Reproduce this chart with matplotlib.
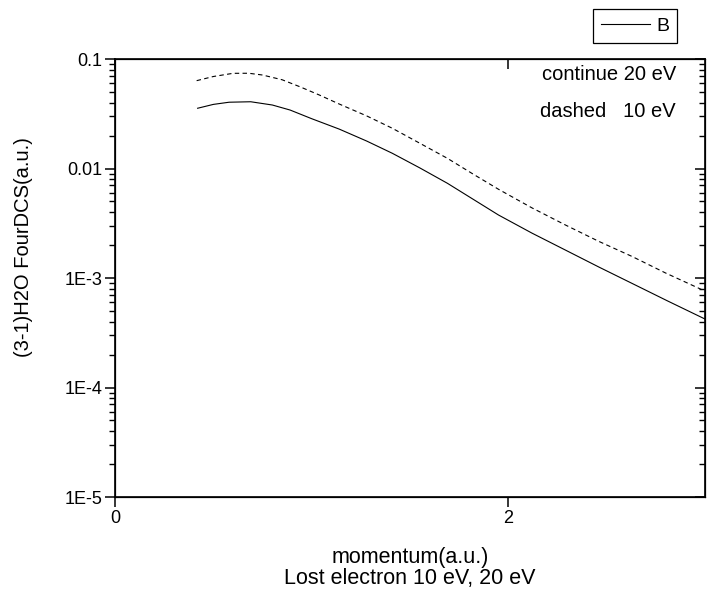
import numpy as np
import matplotlib
matplotlib.use("Agg")
import matplotlib.pyplot as plt
from matplotlib.ticker import FixedLocator, LogLocator, NullFormatter

plt.rcParams['font.family'] = ['Liberation Sans', 'DejaVu Sans']

# values (log scale)
x_20ev = [0.42, 0.50, 0.58, 0.69, 0.80, 0.89, 1.00, 1.14, 1.28, 1.41, 1.55,
          1.69, 1.82, 1.95, 2.12, 2.29, 2.46, 2.63, 2.81, 3.0]
y_20ev = [0.0355, 0.0385, 0.0403, 0.0407, 0.0380, 0.0342, 0.0285, 0.0229,
          0.0178, 0.01377, 0.01012, 0.00733, 0.00525, 0.00376, 0.00257,
          0.00180, 0.00126, 0.000891, 0.000617, 0.000422]

x_10ev = [0.415, 0.50, 0.60, 0.68, 0.75, 0.85, 0.94, 1.04, 1.14, 1.28, 1.41,
          1.55, 1.69, 1.82, 1.95, 2.12, 2.29, 2.46, 2.63, 2.80, 3.0]
y_10ev = [0.0634, 0.0692, 0.0740, 0.0741, 0.0714, 0.0646, 0.0558, 0.0468,
          0.0388, 0.0302, 0.0233, 0.0170, 0.01239, 0.00891, 0.00646, 0.00437,
          0.00305, 0.00216, 0.00157, 0.00111, 0.000759]

y_ticks = [1e-5, 1e-4, 1e-3, 1e-2, 1e-1]
y_ticklabels = ['1E-5', '1E-4', '1E-3', '0.01', '0.1']
x_ticks = [0, 2]

fig = plt.figure(figsize=(7.07, 5.9), dpi=100)
ax = fig.add_axes([0.1627, 0.1576, 0.8345, 0.7424])

solid, = ax.plot(x_20ev, y_20ev, 'k-', linewidth=0.8)
ax.plot(x_10ev, y_10ev, color='k', linestyle=(0, (4, 3)), linewidth=0.8)

ax.set_yscale('log')
ax.set_ylim(1e-5, 0.1)
ax.set_xlim(0, 3)

ax.xaxis.set_major_locator(FixedLocator(x_ticks))
ax.set_xticklabels([str(t) for t in x_ticks])
ax.yaxis.set_major_locator(FixedLocator(y_ticks))
ax.set_yticklabels(y_ticklabels)
ax.yaxis.set_minor_locator(LogLocator(base=10, subs=np.arange(2, 10)))
ax.yaxis.set_minor_formatter(NullFormatter())

ax.tick_params(which='major', direction='out', length=7, width=1.1, labelsize=13, pad=2)
ax.tick_params(which='minor', direction='out', length=4, width=1.0)
for s in ax.spines.values():
    s.set_linewidth(1.2)

# mirrored axes with inward ticks (right and top)
axr = ax.twinx()
axr.set_yscale('log')
axr.set_ylim(ax.get_ylim())
axr.yaxis.set_major_locator(FixedLocator(y_ticks))
axr.yaxis.set_minor_locator(LogLocator(base=10, subs=np.arange(2, 10)))
axr.yaxis.set_major_formatter(NullFormatter())
axr.yaxis.set_minor_formatter(NullFormatter())
axr.tick_params(which='major', direction='in', length=7, width=1.1)
axr.tick_params(which='minor', direction='in', length=4, width=1.0)

axt = ax.twiny()
axt.set_xlim(ax.get_xlim())
axt.xaxis.set_major_locator(FixedLocator(x_ticks))
axt.xaxis.set_major_formatter(NullFormatter())
axt.tick_params(which='major', direction='in', length=7, width=1.1)

ax.set_xlabel('momentum(a.u.)\nLost electron 10 eV, 20 eV', fontsize=15.5,
              linespacing=1.0)
ax.xaxis.set_label_coords(0.5, -0.114)
ax.set_ylabel('(3-1)H2O FourDCS(a.u.)', fontsize=14.5)
ax.yaxis.set_label_coords(-0.139, 0.571)

ax.text(0.951, 0.9635, 'continue 20 eV', transform=ax.transAxes, ha='right',
        va='center', fontsize=14.5)
ax.text(0.951, 0.879, 'dashed   10 eV', transform=ax.transAxes, ha='right',
        va='center', fontsize=14.5)

leg = fig.legend([solid], ['B'], loc='upper right', bbox_to_anchor=(0.958, 0.984),
                 fancybox=False, framealpha=1, edgecolor='k', fontsize=14,
                 handlelength=2.5, borderpad=0.4, borderaxespad=0, handletextpad=0.35)
leg.get_frame().set_linewidth(0.9)

fig.savefig('out.png', dpi=100)
